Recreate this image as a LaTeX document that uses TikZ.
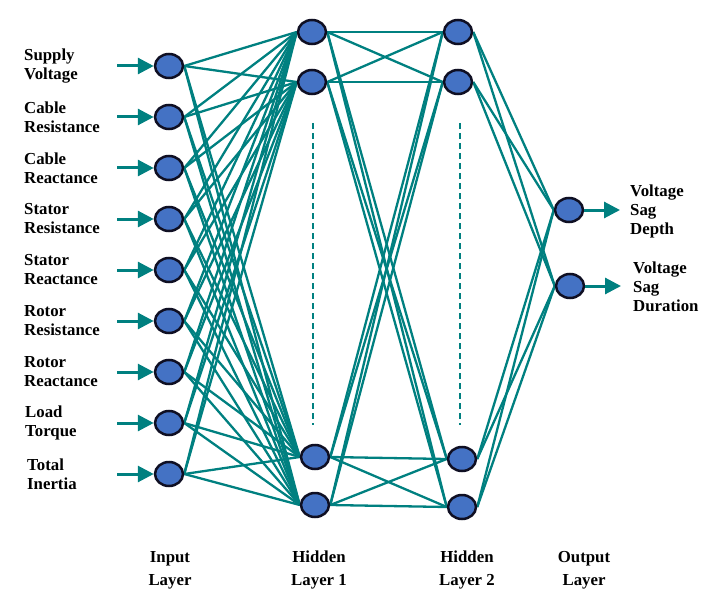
\documentclass[tikz,border=0pt]{standalone}
\usepackage{fontspec}
\setmainfont{Liberation Serif}[BoldFont={Liberation Serif Bold}]
\usetikzlibrary{arrows.meta,backgrounds,shapes.geometric}
\definecolor{tealline}{RGB}{0,128,128}
\definecolor{nodeblue}{RGB}{68,114,196}
\definecolor{nodeedge}{RGB}{15,15,35}
\begin{document}
\begin{tikzpicture}[x=1pt,y=-1pt,
  neuron/.style={ellipse,draw=nodeedge,fill=nodeblue,line width=2.5pt,minimum width=28pt,minimum height=24pt,inner sep=0pt},
  conn/.style={draw=tealline,line width=2.3pt},
  inarrow/.style={draw=tealline,fill=tealline,line width=3pt,-{Triangle[length=16pt,width=16pt]}},
  lbl/.style={font=\bfseries\fontsize{16.8}{19}\selectfont,align=left,anchor=west,inner sep=0pt},
  layerlbl/.style={font=\bfseries\fontsize{16.8}{23}\selectfont,align=center,inner sep=0pt},
  dashline/.style={draw=tealline,line width=2.3pt,dash pattern=on 6pt off 4pt}]
\useasboundingbox (0,0) rectangle (714,604);
% input neurons
\foreach \n/\y in {1/66,2/117,3/168,4/219,5/270,6/321,7/372,8/423,9/474}
  \node[neuron] (i\n) at (169,\y) {};
% hidden layer 1
\node[neuron] (a1) at (312,32) {};
\node[neuron] (a2) at (312,82) {};
\node[neuron] (a3) at (315,457) {};
\node[neuron] (a4) at (315,505) {};
% hidden layer 2
\node[neuron] (b1) at (458,32) {};
\node[neuron] (b2) at (458,82) {};
\node[neuron] (b3) at (462,459) {};
\node[neuron] (b4) at (462,507) {};
% output
\node[neuron] (o1) at (569,210) {};
\node[neuron] (o2) at (570,286) {};
% connections
\begin{scope}[on background layer]
\foreach \i in {1,...,9}
  \foreach \j in {1,...,4}
    \draw[conn] (i\i.east) -- (a\j.west);
\foreach \i in {1,...,4}
  \foreach \j in {1,...,4}
    \draw[conn] (a\i.east) -- (b\j.west);
\foreach \i in {1,...,4}
  \foreach \j in {1,2}
    \draw[conn] (b\i.east) -- (o\j.west);
\end{scope}
% dashed lines
\coordinate (d1s) at (313,123);
\coordinate (d1e) at (313,425);
\coordinate (d2s) at (460,123);
\coordinate (d2e) at (460,425);
\draw[dashline] (d1s) -- (d1e);
\draw[dashline] (d2s) -- (d2e);
% input arrows and labels
\foreach \n/\y in {1/66,2/117,3/168,4/219,5/270,6/321,7/372,8/423,9/474}{
  \coordinate (s\n) at (117,\y);
  \draw[inarrow] (s\n) -- (i\n.west);
}
\node[lbl] (l1) at (24,66) {Supply\\Voltage};
\node[lbl] (l2) at (24,117) {Cable\\Resistance};
\node[lbl] (l3) at (24,168) {Cable\\Reactance};
\node[lbl] (l4) at (24,219) {Stator\\Resistance};
\node[lbl] (l5) at (24,270) {Stator\\Reactance};
\node[lbl] (l6) at (24,321) {Rotor\\Resistance};
\node[lbl] (l7) at (24,372) {Rotor\\Reactance};
\node[lbl] (l8) at (25,423) {Load\\Torque};
\node[lbl] (l9) at (27,474) {Total\\Inertia};
% output arrows and labels
\coordinate (t1) at (620,210);
\coordinate (t2) at (621,286);
\draw[inarrow] (o1.east) -- (t1);
\draw[inarrow] (o2.east) -- (t2);
\node[lbl] (ol1) at (630,211) {Voltage\\Sag\\Depth};
\node[lbl] (ol2) at (633,287) {Voltage\\Sag\\Duration};
% layer labels
\node[layerlbl] (L1) at (170,570) {Input\\Layer};
\node[layerlbl] (L2) at (319,570) {Hidden\\Layer 1};
\node[layerlbl] (L3) at (467,570) {Hidden\\Layer 2};
\node[layerlbl] (L4) at (584,570) {Output\\Layer};
\end{tikzpicture}
\end{document}
